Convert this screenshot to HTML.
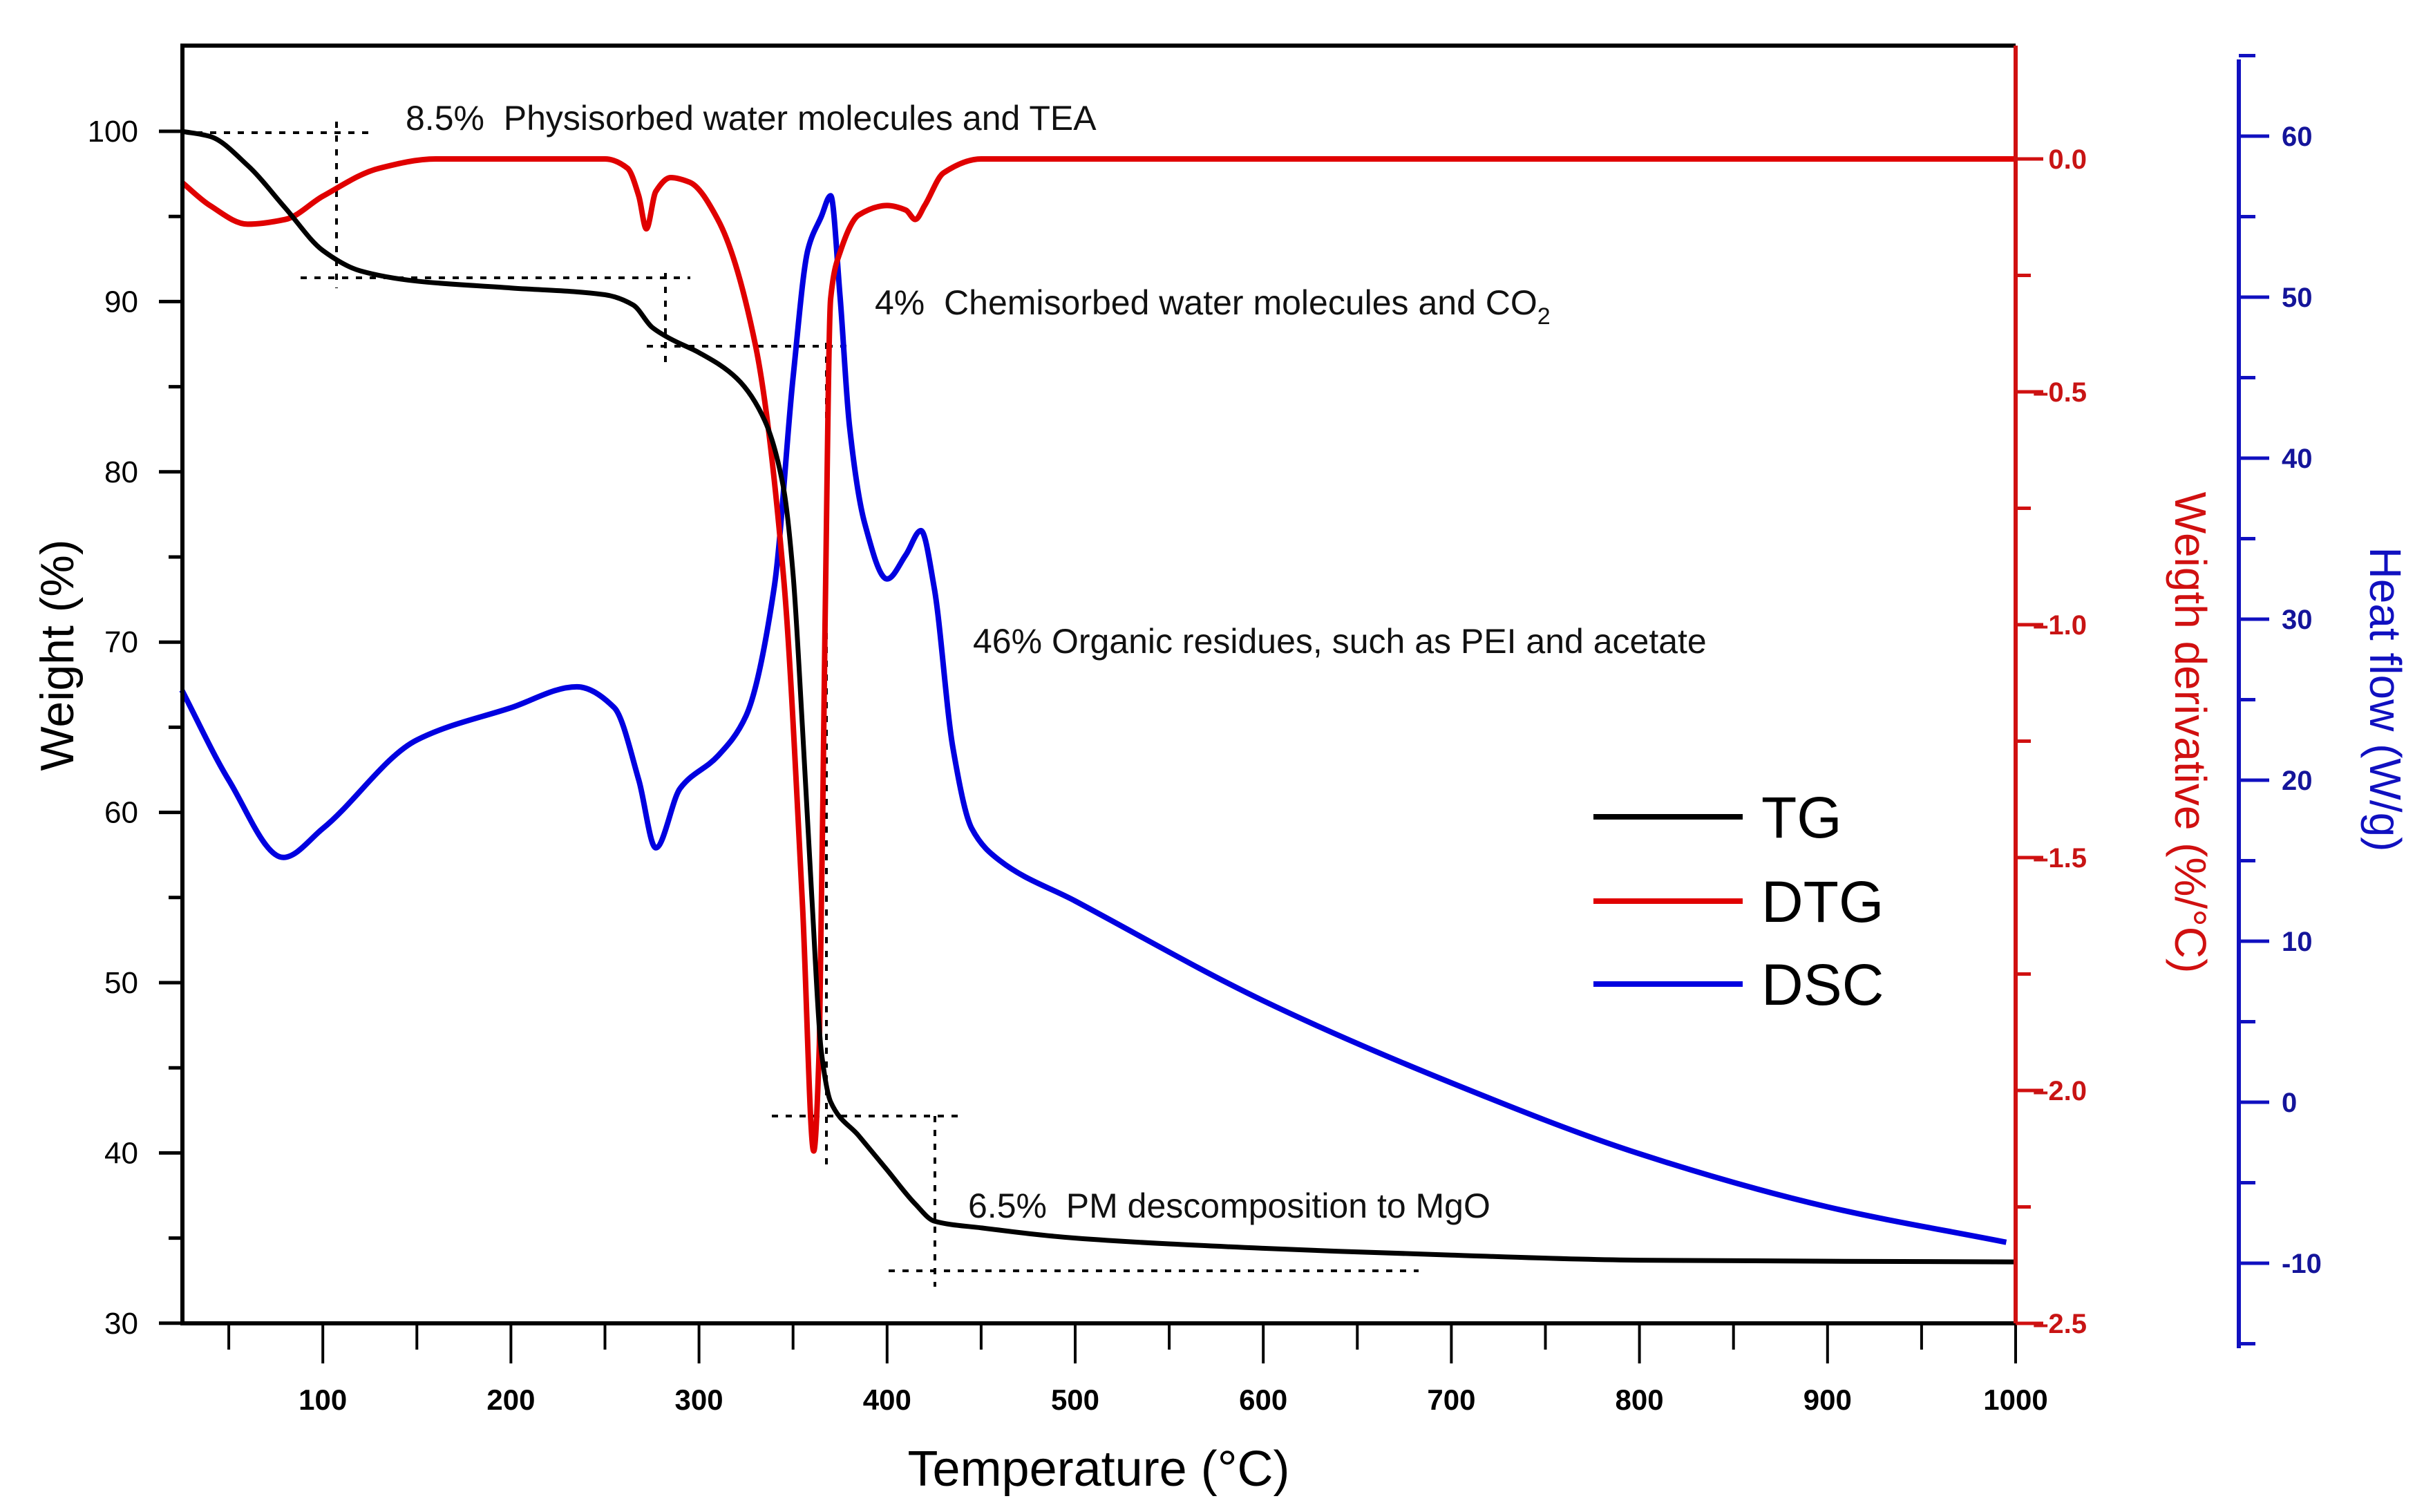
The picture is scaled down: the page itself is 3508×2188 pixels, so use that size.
<!DOCTYPE html>
<html><head><meta charset="utf-8"><style>
html,body{margin:0;padding:0;background:#fff;}
svg{display:block;font-family:"Liberation Sans",Arial,sans-serif;}
</style></head><body>
<svg id="chart" width="3508" height="2188" viewBox="0 0 3508 2188" xmlns="http://www.w3.org/2000/svg">
<g id="dots" stroke="#000" stroke-width="4" stroke-dasharray="9,11" fill="none">
<line x1="264" y1="192" x2="537" y2="192"/>
<line x1="487" y1="176" x2="487" y2="417"/>
<line x1="435" y1="402" x2="999" y2="402"/>
<line x1="963" y1="395" x2="963" y2="526"/>
<line x1="936" y1="501" x2="1230" y2="501"/>
<line x1="1196" y1="496" x2="1196" y2="1688"/>
<line x1="1117" y1="1615" x2="1394" y2="1615"/>
<line x1="1353" y1="1615" x2="1353" y2="1862"/>
<line x1="1286" y1="1839" x2="2053" y2="1839"/>
</g>
<g id="series"></g>
<g id="axes"></g>
<g font-size="50" fill="#111">
<text x="587" y="188" xml:space="preserve">8.5%  Physisorbed water molecules and TEA</text>
<text x="1266" y="455" xml:space="preserve">4%  Chemisorbed water molecules and CO<tspan font-size="34" dy="14">2</tspan></text>
<text x="1408" y="945">46% Organic residues, such as PEI and acetate</text>
<text x="1401" y="1762" xml:space="preserve">6.5%  PM descomposition to MgO</text>
</g>
<g font-size="84" fill="#000">
<line x1="2306" y1="1182" x2="2522" y2="1182" stroke="#000" stroke-width="8"/>
<text x="2549" y="1212">TG</text>
<line x1="2306" y1="1304" x2="2522" y2="1304" stroke="#e00000" stroke-width="8"/>
<text x="2549" y="1334">DTG</text>
<line x1="2306" y1="1424" x2="2522" y2="1424" stroke="#0000e0" stroke-width="8"/>
<text x="2549" y="1454">DSC</text>
</g>
<text x="1590" y="2150" font-size="72" text-anchor="middle">Temperature (°C)</text>
<text transform="translate(106,948) rotate(-90)" font-size="68" text-anchor="middle">Weight (%)</text>
<text transform="translate(3148,1060) rotate(90)" font-size="64" text-anchor="middle" fill="#d01010">Weigth derivative (%/°C)</text>
<text transform="translate(3430,1012) rotate(90)" font-size="64" text-anchor="middle" fill="#1010c0">Heat flow  (W/g)</text>
</svg>
<script>
const tempX = [25,40,60,80,100,120,150,200,250,265,275,285,300,320,335,345,350,355,360,365,370,385,400,415,425,450,500,600,700,800,1000];
const tgValues = [100,99.7,98,95.5,93,91.8,91.2,90.8,90.4,89.8,88.5,87.8,87,85.5,83,79,74,65,55,46,43,41,39,37,36,35.6,35,34.4,34,33.7,33.6];
const dtgX = [25,40,60,80,100,130,160,250,262,268,272,277,285,295,310,330,345,355,361,364,367,370,375,385,400,410,415,420,430,450,1000];
const dtgValues = [-0.05,-0.1,-0.14,-0.13,-0.08,-0.02,0,0,-0.02,-0.08,-0.15,-0.07,-0.04,-0.05,-0.13,-0.4,-0.9,-1.6,-2.13,-1.9,-1.0,-0.3,-0.2,-0.12,-0.1,-0.11,-0.13,-0.1,-0.03,0,0];
const dscX = [25,50,79,100,150,200,235,255,268,277,290,310,325,340,350,358,365,370,375,380,388,400,410,418,425,435,445,460,500,600,700,800,900,995];
const dscValues = [25.6,20,15.2,17,22.5,24.5,25.8,24.5,20,15.8,19.5,21.5,24,32,45,53,55,56.3,50,42,36,32.5,34,35.5,32,22,17,15,12.5,6.3,1.2,-3.2,-6.5,-8.7];
const xTicks = [100,200,300,400,500,600,700,800,900,1000];
const wTicks = [30,40,50,60,70,80,90,100];
const dTicks = ["0.0","–0.5","–1.0","–1.5","–2.0","–2.5"];
const dTickVals = [0,-0.5,-1,-1.5,-2,-2.5];
const hTicks = [-10,0,10,20,30,40,50,60];

const NS="http://www.w3.org/2000/svg";
const X0=264, X1=2917, TOP=66, BOT=1915;
const xs = t => 195 + (t-0)*2.722;
const yw = v => 190 + (100-v)*24.64;
const yd = v => 230 - v*674;
const yh = v => 1595 - v*23.3;
function mk(tag, attrs, parent){const e=document.createElementNS(NS,tag);for(const k in attrs)e.setAttribute(k,attrs[k]);parent.appendChild(e);return e;}
function smooth(px,py){const n=px.length;const d=[],m=new Array(n);
 for(let i=0;i<n-1;i++)d.push((py[i+1]-py[i])/(px[i+1]-px[i]));
 m[0]=d[0];m[n-1]=d[n-2];
 for(let i=1;i<n-1;i++){if(d[i-1]*d[i]<=0)m[i]=0;else{const w1=2*(px[i+1]-px[i])+(px[i]-px[i-1]),w2=(px[i+1]-px[i])+2*(px[i]-px[i-1]);m[i]=(w1+w2)/(w1/d[i-1]+w2/d[i]);}}
 let s="M"+px[0].toFixed(1)+","+py[0].toFixed(1);
 for(let i=0;i<n-1;i++){const h=(px[i+1]-px[i])/3;
 s+=` C${(px[i]+h).toFixed(1)},${(py[i]+m[i]*h).toFixed(1)} ${(px[i+1]-h).toFixed(1)},${(py[i+1]-m[i+1]*h).toFixed(1)} ${px[i+1].toFixed(1)},${py[i+1].toFixed(1)}`;}
 return s;}
const S=document.getElementById('series');
let p=mk('path',{d:smooth(dscX.map(xs),dscValues.map(yh)),stroke:'#0000e0','stroke-width':8,fill:'none','stroke-linejoin':'round'},S);


p=mk('path',{d:smooth(dtgX.map(xs),dtgValues.map(yd)),stroke:'#e00000','stroke-width':8,fill:'none','stroke-linejoin':'round'},S);


p=mk('path',{d:smooth(tempX.map(xs),tgValues.map(yw)),stroke:'#000','stroke-width':7,fill:'none','stroke-linejoin':'round'},S);



const A=document.getElementById('axes');
let e;
e=mk('line',{x1:X0,y1:TOP,x2:X1,y2:TOP,stroke:'#000','stroke-width':6},A);


e=mk('line',{x1:X0,y1:TOP-3,x2:X0,y2:BOT+3,stroke:'#000','stroke-width':6},A);


e=mk('line',{x1:X0,y1:BOT,x2:X1,y2:BOT,stroke:'#000','stroke-width':6},A);


e=mk('line',{x1:X1,y1:TOP,x2:X1,y2:BOT,stroke:'#d01010','stroke-width':6},A);


e=mk('line',{x1:3240,y1:86,x2:3240,y2:1951,stroke:'#1010c0','stroke-width':6},A);


for(let t=50;t<=1000;t+=50){const x=xs(t);const maj=t%100===0;
 e=mk('line',{x1:x,y1:BOT,x2:x,y2:BOT+(maj?58:38),stroke:'#000','stroke-width':4},A);
 
 }
xTicks.forEach(t=>{e=mk('text',{x:xs(t),y:2040,'font-size':42,'font-weight':'bold','text-anchor':'middle'},A);e.textContent=t;
 
 });
for(let v=30;v<=100;v+=5){const y=yw(v);const maj=v%10===0;
 e=mk('line',{x1:X0-(maj?34:20),y1:y,x2:X0,y2:y,stroke:'#000','stroke-width':5},A);
 
 }
wTicks.forEach(v=>{e=mk('text',{x:200,y:yw(v)+15,'font-size':44,'text-anchor':'end'},A);e.textContent=v;
 
 });
for(let v=0;v>=-2.5;v-=0.25){const y=yd(v);const maj=Math.abs(v*2-Math.round(v*2))<1e-6;
 e=mk('line',{x1:X1,y1:y,x2:X1+(maj?40:22),y2:y,stroke:'#d01010','stroke-width':5},A);
 
 }
dTickVals.forEach((v,i)=>{e=mk('text',{x:3020,y:yd(v)+14,'font-size':40,'font-weight':'bold','text-anchor':'end',fill:'#c81414'},A);e.textContent=dTicks[i];
 
 });
for(let v=-15;v<=65;v+=5){const y=yh(v);const maj=v%10===0;
 e=mk('line',{x1:3240,y1:y,x2:3240+(maj?44:24),y2:y,stroke:'#1010c0','stroke-width':5},A);
 
 }
hTicks.forEach(v=>{e=mk('text',{x:3302,y:yh(v)+14,'font-size':40,'font-weight':'bold',fill:'#14149a'},A);e.textContent=v;
 
 });
</script>
</body></html>
